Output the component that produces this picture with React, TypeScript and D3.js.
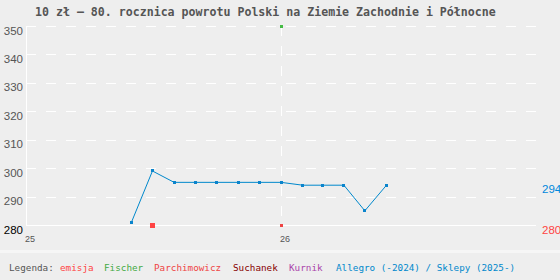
import React from 'react';
import * as d3 from 'd3';

// --- DATA ---
const shopDates = [
  '2025-06-01', '2025-07-01', '2025-08-01', '2025-09-01', '2025-10-01', '2025-11-01',
  '2025-12-01', '2026-01-01', '2026-02-01', '2026-03-01', '2026-04-01', '2026-05-01', '2026-06-01',
];
const shopPrices = [281, 299, 295, 295, 295, 295, 295, 295, 294, 294, 294, 285, 294];

const emisjaDates = ['2025-07-01'];
const emisjaPrices = [280];

const fischerDates = ['2026-01-01'];
const fischerPrices = [350];

const parchDates = ['2026-01-01'];
const parchPrices = [280];

const yTicks = [280, 290, 300, 310, 320, 330, 340, 350];
const xTicks = ['2025-01-01', '2026-01-01'];
const xTickLabels = ['25', '26'];

const legendItems = [
  { label: 'Legenda:', color: '#555555', x: 9 },
  { label: 'emisja', color: '#ff4444', x: 60 },
  { label: 'Fischer', color: '#44aa44', x: 104 },
  { label: 'Parchimowicz', color: '#ee4444', x: 154 },
  { label: 'Suchanek', color: '#880000', x: 233 },
  { label: 'Kurnik', color: '#aa44aa', x: 289 },
  { label: 'Allegro (-2024) / Sklepy (2025-)', color: '#0088cc', x: 336 },
];

const W = 560;
const H = 280;

export default function App() {
  const parse = d3.timeParse('%Y-%m-%d');
  const x = d3.scaleTime()
    .domain([parse('2025-01-01')!, parse('2027-01-01')!])
    .range([26, 536]);
  const y = d3.scaleLinear().domain([280, 350]).range([225, 26]);

  const shop = shopDates.map((d, i) => ({ date: parse(d)!, v: shopPrices[i] }));
  const line = d3.line<{ date: Date; v: number }>()
    .x(d => x(d.date))
    .y(d => y(d.v));

  const sq = (cx: number, cy: number, s: number, fill: string, key: string) => (
    <rect key={key} x={Math.round(cx - s / 2)} y={Math.round(cy - s / 2)} width={s} height={s} fill={fill} />
  );

  const last = shop[shop.length - 1];

  return (
    <svg width={W} height={H} style={{ position: 'fixed', left: 0, top: 0, background: '#eeeeee' }}
      shapeRendering="crispEdges">
      <rect x={0} y={0} width={W} height={H} fill="#eeeeee" />

      {/* Title */}
      <text x={35} y={16} fontFamily="DejaVu Sans Mono" fontWeight="bold" fontSize={11.6} fill="#555555">
        10 zł – 80. rocznica powrotu Polski na Ziemie Zachodnie i Północne
      </text>

      {/* Grid */}
      {yTicks.map(t => (
        <line key={'g' + t} x1={26} x2={536} y1={y(t) + 0.5} y2={y(t) + 0.5}
          stroke="#ffffff" strokeWidth={1} strokeDasharray={t === 280 ? undefined : '10,10'} />
      ))}
      <line x1={26.5} x2={26.5} y1={26} y2={225} stroke="#ffffff" strokeWidth={1} />
      {xTicks.slice(1).map(t => (
        <line key={'vx' + t} x1={Math.round(x(parse(t)!)) + 0.5} x2={Math.round(x(parse(t)!)) + 0.5}
          y1={26} y2={225} stroke="#ffffff" strokeWidth={1} strokeDasharray="10,10" />
      ))}

      {/* Y labels */}
      {yTicks.map(t => (
        <text key={'yl' + t} x={23} y={y(t) + 8.5} textAnchor="end" fontFamily="Liberation Sans"
          fontSize={11.5} fill={t === 280 ? '#000000' : '#555555'}>{t}</text>
      ))}

      {/* X labels */}
      {xTicks.map((t, i) => (
        <text key={'xl' + t} x={x(parse(t)!) - 1} y={242} fontFamily="Liberation Sans"
          fontSize={9} fill="#555555">{xTickLabels[i]}</text>
      ))}

      {/* Shop line */}
      <path d={line(shop) || ''} fill="none" stroke="#0088cc" strokeWidth={1} shapeRendering="auto" />
      {shop.map((d, i) => sq(x(d.date), y(d.v), 3, '#0a84cc', 's' + i))}

      {/* Other series */}
      {emisjaDates.map((d, i) => sq(x(parse(d)!), y(emisjaPrices[i]), 5, '#ff4444', 'e' + i))}
      {fischerDates.map((d, i) => sq(x(parse(d)!), y(fischerPrices[i]), 3, '#44bb44', 'f' + i))}
      {parchDates.map((d, i) => sq(x(parse(d)!), y(parchPrices[i]), 3, '#ee4444', 'p' + i))}

      {/* Right side labels */}
      <text x={542} y={y(last.v) + 8} fontFamily="Liberation Sans" fontSize={11.5} fill="#0088dd">{last.v}</text>
      <text x={542} y={y(parchPrices[0]) + 8.5} fontFamily="Liberation Sans" fontSize={11.5} fill="#ff4444">{parchPrices[0]}</text>

      {/* Legend */}
      <line x1={0} x2={W} y1={251.5} y2={251.5} stroke="#f6f6f6" strokeWidth={3} />
      {legendItems.map(it => (
        <text key={it.label} x={it.x} y={270.5} fontFamily="DejaVu Sans Mono" fontSize={9.3} fill={it.color}>
          {it.label}
        </text>
      ))}
    </svg>
  );
}
